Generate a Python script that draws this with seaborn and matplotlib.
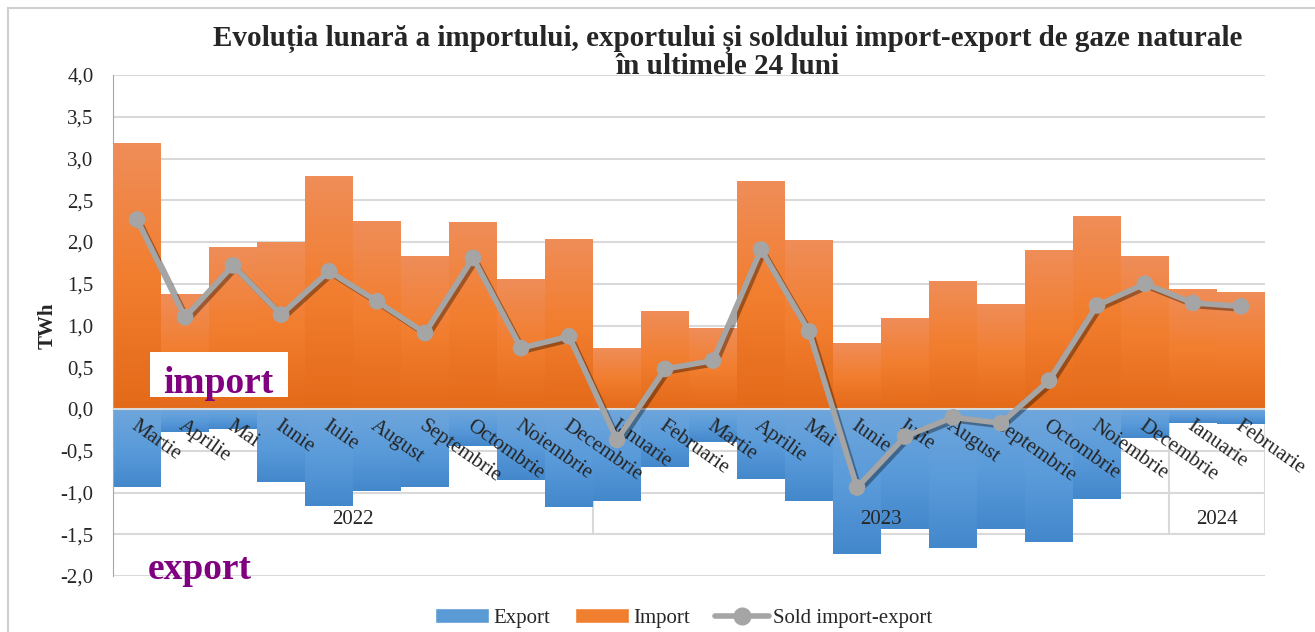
import numpy as np
import pandas as pd
import seaborn as sns
import matplotlib.pyplot as plt
import matplotlib.patheffects as pe
from matplotlib.colors import LinearSegmentedColormap
from matplotlib.lines import Line2D
from matplotlib.patches import Patch, Rectangle

# date (TWh), martie 2022 - februarie 2024
luni = ['Martie', 'Aprilie', 'Mai', 'Iunie', 'Iulie', 'August', 'Septembrie',
        'Octombrie', 'Noiembrie', 'Decembrie',
        'Ianuarie', 'Februarie', 'Martie', 'Aprilie', 'Mai', 'Iunie', 'Iulie',
        'August', 'Septembrie', 'Octombrie', 'Noiembrie', 'Decembrie',
        'Ianuarie', 'Februarie']
ani = ['2022', '2023', '2024']
luni_pe_an = [10, 12, 2]

importul = [3.18, 1.37, 1.94, 1.99, 2.79, 2.25, 1.83, 2.23, 1.55, 2.03,
            0.73, 1.17, 0.96, 2.73, 2.02, 0.79, 1.08, 1.53, 1.25, 1.90, 2.31, 1.83,
            1.43, 1.40]
exportul = [-0.93, -0.27, -0.24, -0.87, -1.16, -0.98, -0.94, -0.44, -0.85, -1.17,
            -1.10, -0.70, -0.39, -0.84, -1.10, -1.74, -1.44, -1.66, -1.44, -1.59, -1.08, -0.35,
            -0.17, -0.18]
sold = [2.27, 1.10, 1.72, 1.13, 1.65, 1.29, 0.91, 1.81, 0.73, 0.87,
        -0.37, 0.48, 0.58, 1.91, 0.93, -0.94, -0.33, -0.10, -0.17, 0.34, 1.24, 1.50,
        1.27, 1.23]

df = pd.DataFrame({'poz': np.arange(len(luni)), 'Import': importul,
                   'Export': exportul, 'Sold': sold})

sns.set_style('white')
plt.rcParams['font.family'] = ['Liberation Serif', 'DejaVu Serif']

fig = plt.figure(figsize=(13.15, 6.32), dpi=100)
ax = fig.add_axes([0.086, 0.0886, 0.876, 0.7927])

# 1. bare import / export
sns.barplot(data=df, x='poz', y='Import', color='#F07F30', width=1.0,
            saturation=1, linewidth=0, ax=ax)
n_imp = len(ax.patches)
sns.barplot(data=df, x='poz', y='Export', color='#5B9BD5', width=1.0,
            saturation=1, linewidth=0, ax=ax)

cmap_imp = LinearSegmentedColormap.from_list('imp', ['#E36A19', '#F27E2F', '#EF8D58'])
cmap_exp = LinearSegmentedColormap.from_list('exp', ['#4488CC', '#5A9BDA', '#6FA6DC'])
grad = np.linspace(0, 1, 100).reshape(-1, 1)
for i, p in enumerate(ax.patches):
    x0, y0 = p.get_x(), p.get_y()
    w, h = p.get_width(), p.get_height()
    yb, yt = min(y0, y0 + h), max(y0, y0 + h)
    ax.imshow(grad, extent=(x0, x0 + w, yb, yt), origin='lower', aspect='auto',
              cmap=cmap_imp if i < n_imp else cmap_exp, zorder=2)
    p.set_facecolor('none')

# 2. linia soldului
sns.lineplot(x=df['poz'], y=df['Sold'], color='#A5A5A5', linewidth=4,
             marker='o', markersize=12, markeredgewidth=0, ax=ax, zorder=5,
             path_effects=[pe.SimpleLineShadow(offset=(2, -2), alpha=0.35), pe.Normal()])

ax.set_xlim(-0.5, 23.5)
ax.set_ylim(-2.0, 4.0)
yt = np.arange(-2.0, 4.01, 0.5)
ax.set_yticks(yt)
ax.set_yticklabels([f'{v:.1f}'.replace('.', ',') for v in yt], fontsize=15)
ax.tick_params(axis='y', length=0, pad=14)
ax.set_xticks([])
ax.set_xlabel('')
ax.set_ylabel('TWh', fontsize=15, fontweight='bold', labelpad=2)
ax.yaxis.grid(True, color='#D9D9D9', linewidth=1.5)
ax.set_axisbelow(True)
for s in ['top', 'right', 'bottom']:
    ax.spines[s].set_visible(False)
ax.spines['left'].set_color('#A6A6A6')
ax.axhline(0, color='#D9D9D9', linewidth=1.5, zorder=3)

# 3. axa pe doua niveluri: luni + ani
for i, luna in enumerate(luni):
    ax.text(i + 0.02, -0.09, luna, rotation=-35, rotation_mode='anchor',
            ha='left', va='top', fontsize=15, zorder=4)
start = 0
for an, n in zip(ani, luni_pe_an):
    ax.text(start + (n - 1) / 2, -1.32, an, ha='center', va='center', fontsize=15)
    start += n
    ax.plot([start - 0.5, start - 0.5], [0, -1.5], color='#D9D9D9', lw=1.5, zorder=1)

# 4. etichete import / export
ax.add_patch(Rectangle((0.27, 0.144), 2.88, 0.54, facecolor='white',
                       edgecolor='none', zorder=6))
ax.text(1.7, 0.31, 'import', color='#800080', fontsize=27, fontweight='bold',
        ha='center', va='center', zorder=7)
ax.text(1.3, -1.92, 'export', color='#800080', fontsize=27, fontweight='bold',
        ha='center', va='center', zorder=6)

fig.text(0.553, 0.96, 'Evoluția lunară a importului, exportului și soldului import-export de gaze naturale\nîn ultimele 24 luni',
         ha='center', va='top', fontsize=21, fontweight='bold', linespacing=1.0)

handles = [Patch(facecolor='#5B9BD5', label='Export'),
           Patch(facecolor='#F07F30', label='Import'),
           Line2D([0], [0], color='#A5A5A5', lw=4, marker='o', markersize=12,
                  label='Sold import-export')]
fig.legend(handles=handles, loc='center', bbox_to_anchor=(0.52, 0.022), ncol=3,
           frameon=False, fontsize=15, handlelength=2.6, columnspacing=1.2,
           handletextpad=0.2)

fig.patches.append(Rectangle((0.006, -0.01), 1.0, 0.997, transform=fig.transFigure,
                             fill=False, edgecolor='#D0D0D0', linewidth=1.5))

fig.savefig('out.png', dpi=100)
